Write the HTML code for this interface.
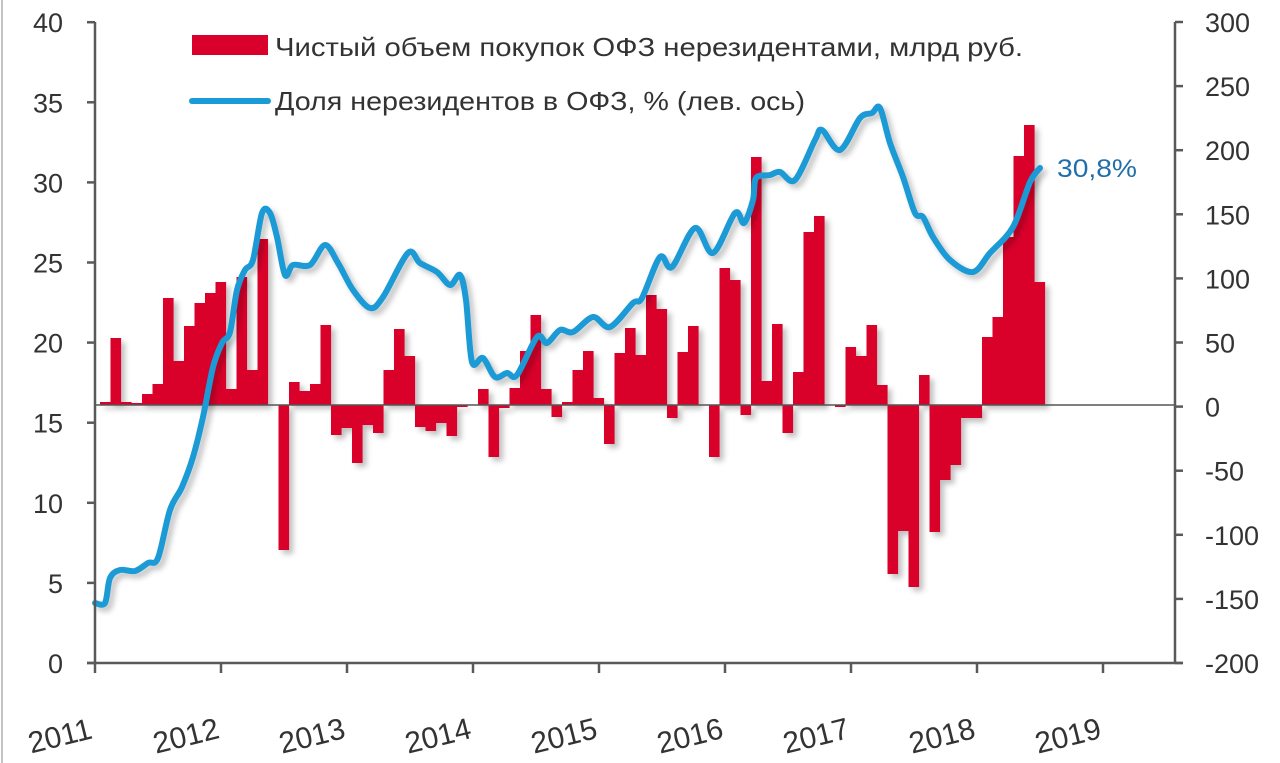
<!DOCTYPE html>
<html><head><meta charset="utf-8"><style>
html,body{margin:0;padding:0;background:#fff;}
svg{display:block;font-family:"Liberation Sans","DejaVu Sans",sans-serif;}
</style></head><body>
<svg width="1280" height="763" viewBox="0 0 1280 763" xmlns="http://www.w3.org/2000/svg">
<defs><filter id="sh" x="-5%" y="-5%" width="110%" height="110%"><feGaussianBlur in="SourceAlpha" stdDeviation="3"/><feOffset dx="4" dy="4"/><feComponentTransfer><feFuncA type="linear" slope="0.25"/></feComponentTransfer><feMerge><feMergeNode/><feMergeNode in="SourceGraphic"/></feMerge></filter></defs>
<line x1="2" y1="0" x2="2" y2="763" stroke="#888" stroke-width="1"/>
<g id="bars" fill="#d9002b" filter="url(#sh)"></g>
<line x1="95" y1="405" x2="1175" y2="405" stroke="#555" stroke-width="1.5"/>
<path id="ln" fill="none" stroke="#1a9ad6" stroke-width="6" stroke-linejoin="round" stroke-linecap="round" filter="url(#sh)"/>
<g stroke="#595959" stroke-width="2.5" fill="none">
<line x1="95" y1="22" x2="95" y2="663"/>
<line x1="1175" y1="22" x2="1175" y2="663"/>
<line x1="87" y1="663" x2="1183" y2="663"/>
</g>
<g id="ticks" stroke="#595959" stroke-width="2.5"></g>
<g fill="#333" font-size="27" id="lab"></g>
<g fill="#333" font-size="30" id="ylab"></g>
<rect x="192" y="35" width="76" height="20" fill="#d9002b"/>
<text x="275" y="56" font-size="26" fill="#333" textLength="748" lengthAdjust="spacingAndGlyphs">Чистый объем покупок ОФЗ нерезидентами, млрд руб.</text>
<line x1="192" y1="101" x2="268" y2="101" stroke="#1a9ad6" stroke-width="6" stroke-linecap="round"/>
<text x="275" y="110" font-size="26" fill="#333" textLength="530" lengthAdjust="spacingAndGlyphs">Доля нерезидентов в ОФЗ, % (лев. ось)</text>
<text x="1057" y="177" font-size="25" fill="#1f6fa8" textLength="80" lengthAdjust="spacingAndGlyphs">30,8%</text>
</svg>
<script>
var ns="http://www.w3.org/2000/svg";
var tops=[402,338,402,403,394,384,298,361,326,303,293,282,389,277,370,239,405,550,382,391,384,325,435,428,463,425,433,370,329,356,427,431,423,436,407,405,389,457,408,388,351,315,389,417,402,370,351,398,444,353,328,355,295,309,418,352,326,405,457,268,280,415,157,381,324,433,372,232,216,405,407,347,356,325,385,574,531,587,375,532,480,465,418,418,337,317,237,156,125,282];
var g=document.getElementById("bars");
tops.forEach(function(t,k){var x=100+k*10.5;var y0=405;var r=document.createElementNS(ns,"rect");
var a=Math.min(t,y0),b=Math.max(t,y0);if(b-a<1)return;r.setAttribute("x",x);r.setAttribute("width",10.6);r.setAttribute("y",a);r.setAttribute("height",b-a);g.appendChild(r);});
var pts="95,603 105,603 110,578 120,570 135,571 148,563 158,558 170,510 182,487 193,457 203,417 213,367 222,343 230,332 237,290 245,270 253,260 262,213 270,213 277,237 285,275 293,265 310,265 325,245 338,263 353,290 370,308 383,297 408,253 420,263 437,272 450,285 460,275 466,300 472,362 483,358 495,377 507,373 517,375 537,337 547,343 560,330 573,332 593,317 610,327 633,303 642,298 660,257 672,267 695,228 713,253 735,213 744,223 753,200 756,178 770,175 780,172 795,180 815,140 822,130 840,150 860,118 872,113 880,108 890,143 903,177 915,213 923,217 933,237 950,260 973,272 990,253 1013,227 1030,182 1040,168".split(" ").map(function(s){return s.split(",").map(Number);});
var d="M"+pts[0][0]+","+pts[0][1];
for(var i=0;i<pts.length-1;i++){var p0=pts[Math.max(0,i-1)],p1=pts[i],p2=pts[i+1],p3=pts[Math.min(pts.length-1,i+2)];var t=0.16;
d+=" C"+(p1[0]+(p2[0]-p0[0])*t)+","+(p1[1]+(p2[1]-p0[1])*t)+" "+(p2[0]-(p3[0]-p1[0])*t)+","+(p2[1]-(p3[1]-p1[1])*t)+" "+p2[0]+","+p2[1];}
document.getElementById("ln").setAttribute("d",d);
var tk=document.getElementById("ticks"),lb=document.getElementById("lab"),yl=document.getElementById("ylab");
function L(x1,y1,x2,y2){var l=document.createElementNS(ns,"line");l.setAttribute("x1",x1);l.setAttribute("y1",y1);l.setAttribute("x2",x2);l.setAttribute("y2",y2);tk.appendChild(l);}
function T(p,x,y,s,anch,tr){var t=document.createElementNS(ns,"text");t.setAttribute("x",x);t.setAttribute("y",y);t.setAttribute("text-anchor",anch);if(tr)t.setAttribute("transform",tr);t.textContent=s;p.appendChild(t);}
for(var i=0;i<=8;i++){var y=663-i*80.1;L(87,y,95,y);T(lb,63,y+10,String(i*5),"end");}
for(var i=0;i<=10;i++){var y=22+i*64.1;L(1175,y,1183,y);T(lb,1205,y+10,String(300-i*50),"start");}
for(var i=0;i<=8;i++){var x=95+i*126;L(x,663,x,673);var cx=x-35;T(yl,cx,746,String(2011+i),"middle","rotate(-14 "+cx+" 736)");}
</script>
</body></html>
